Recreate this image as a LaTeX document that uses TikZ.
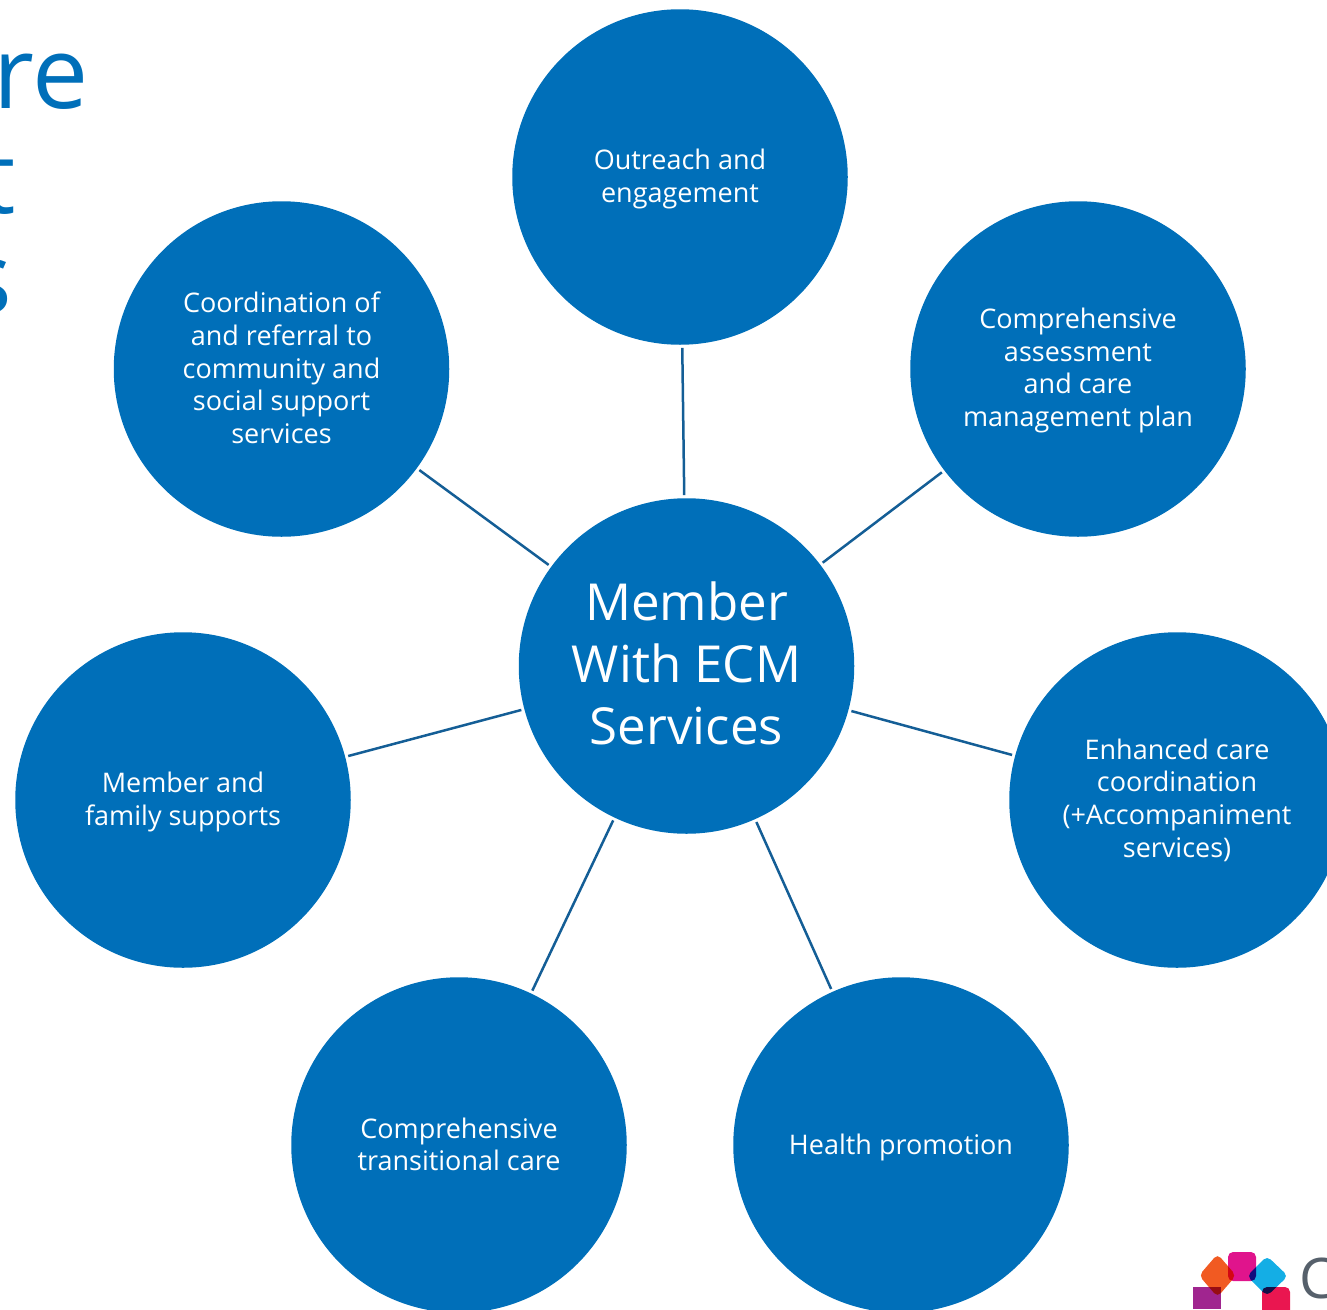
\documentclass[tikz,border=0pt]{standalone}
\usepackage{fontspec}
\setmainfont{Open Sans}
\definecolor{ecmblue}{HTML}{006FB9}
\definecolor{linkblue}{HTML}{145E96}
\definecolor{logogrey}{HTML}{56606B}
\definecolor{logoorange}{HTML}{F15A22}
\definecolor{logomagenta}{HTML}{E0148C}
\definecolor{logocyan}{HTML}{14AEE5}
\definecolor{logopurple}{HTML}{A0258F}
\definecolor{logored}{HTML}{EA1650}
\tikzset{
 x=1pt,y=-1pt,
 hub/.style={circle,fill=ecmblue,minimum size=335.5pt,inner sep=0pt},
 hubtext/.style={text=white,align=center,inner sep=0pt,label distance=0pt,font=\fontsize{27}{32.7}\selectfont},
 bighubtext/.style={hubtext,font=\fontsize{51}{62}\selectfont},
 link/.style={draw=linkblue,line width=2.5pt,shorten >=3pt,shorten <=3pt},
 title/.style={text=ecmblue,font=\fontsize{100}{100}\selectfont,inner sep=0pt,anchor=base east},
 tile/.style={rounded corners=5pt}
}
\begin{document}
\begin{tikzpicture}
\useasboundingbox (0,0) rectangle (1327,1309);
\clip (0,0) rectangle (1327,1309);
\node[title] (t1) at (89,108) {re};
\node[title] (t2) at (16,213) {t};
\node[title] (t3) at (12,313) {s};
\node[hub,label={[bighubtext,yshift=2.5pt]center:Member\\With ECM\\Services}] (center) at (686.5,666) {};
\node[hub,label={[hubtext,yshift=-2pt]center:Outreach and\\engagement}] (outreach) at (680,177) {};
\node[hub,label={[hubtext,yshift=-1.5pt]center:Comprehensive\\assessment\\and care\\management plan}] (assess) at (1078,369) {};
\node[hub,label={[hubtext,yshift=0pt]center:Enhanced care\\coordination\\(+Accompaniment\\services)}] (coord) at (1177,800) {};
\node[hub,label={[hubtext,yshift=-2.5pt]center:Health promotion}] (health) at (901,1145) {};
\node[hub,label={[hubtext,yshift=0.5pt]center:Comprehensive\\transitional care}] (trans) at (459,1145) {};
\node[hub,label={[hubtext,yshift=-2pt]center:Member and\\family supports}] (family) at (183,800) {};
\node[hub,label={[hubtext,yshift=1pt]center:Coordination of\\and referral to\\community and\\social support\\services}] (social) at (281.5,369) {};
\foreach \n in {outreach,assess,coord,health,trans,family,social}
  \draw[link] (center) -- (\n);
% logo
\begin{scope}[blend mode=multiply]
\fill[tile,fill=logoorange] (1217.5,1254) -- (1236,1275.5) -- (1217.5,1297) -- (1199,1275.5) -- cycle;
\fill[tile,fill=logomagenta] (1228,1252) rectangle (1256,1281);
\fill[tile,fill=logocyan] (1267,1256) -- (1288,1276) -- (1267,1296) -- (1247,1276) -- cycle;
\fill[fill=logopurple] (1193,1287) rectangle (1221,1309);
\fill[tile,fill=logored] (1262,1287) rectangle (1290,1320);
\end{scope}
\node[text=logogrey,font=\fontsize{56}{56}\selectfont,inner sep=0pt,anchor=base west] (logoc) at (1299,1298) {C};
\end{tikzpicture}
\end{document}
